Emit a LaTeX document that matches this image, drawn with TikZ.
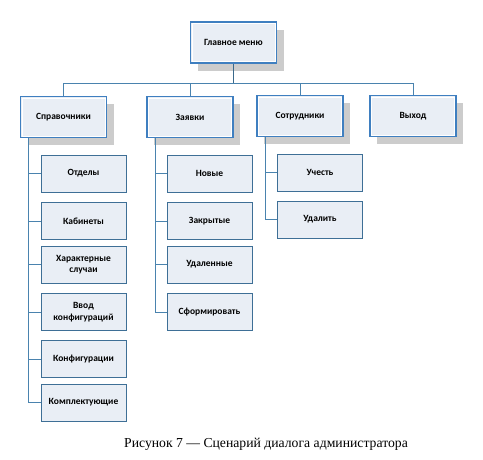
\documentclass[tikz,border=0pt]{standalone}
\usepackage{fontspec}
\setmainfont{Liberation Serif}
\newfontfamily\boxfont{Carlito}
\usetikzlibrary{shadows}
\definecolor{boxfill}{HTML}{E9EEF5}
\definecolor{topline}{HTML}{3F7FC0}
\definecolor{kidline}{HTML}{3E6F96}
\definecolor{conn}{HTML}{4A83AE}
\tikzset{
  x=1pt, y=-1pt,
  topbox/.style={draw=topline, line width=1.6pt,
    fill=boxfill, minimum width=86pt, minimum height=41pt, inner sep=1pt,
    font=\boxfont\bfseries\fontsize{9.5}{11}\selectfont, align=center,
    drop shadow={shadow xshift=7pt, shadow yshift=-8pt, fill=black!20, opacity=1},
    path picture={\draw[white, line width=0.6pt]
      ([shift={(1.4pt,-1.4pt)}]path picture bounding box.north west) rectangle
      ([shift={(-1.4pt,1.4pt)}]path picture bounding box.south east);}},
  kidbox/.style={draw=kidline, line width=0.8pt, fill=boxfill,
    minimum width=85pt, minimum height=37pt, inner sep=1pt,
    font=\boxfont\bfseries\fontsize{9.5}{11.5}\selectfont, align=center},
  link/.style={draw=conn, line width=0.9pt},
}
\begin{document}
\begin{tikzpicture}
\useasboundingbox (0,0) rectangle (483,460);
% top
\node[topbox] (main) at (233.5,42.5) {Главное меню};
% level 1
\node[topbox] (sprav) at (63.5,117) {Справочники};
\node[topbox] (zayav) at (190,117) {Заявки};
\node[topbox] (sotr) at (300,116) {Сотрудники};
\node[topbox] (exit) at (413,116) {Выход};
% Справочники children
\node[kidbox] (otd) at (83.5,173.5) {Отделы};
\node[kidbox] (kab) at (83.5,221) {Кабинеты};
\node[kidbox] (har) at (83.5,264.5) {Характерные\\случаи};
\node[kidbox] (vvod) at (83.5,312) {Ввод\\конфигураций};
\node[kidbox] (konf) at (83.5,359) {Конфигурации};
\node[kidbox] (kompl) at (83.5,402.5) {Комплектующие};
% Заявки children
\node[kidbox] (nov) at (209.5,173.5) {Новые};
\node[kidbox] (zakr) at (209.5,221) {Закрытые};
\node[kidbox] (udln) at (209.5,264.5) {Удаленные};
\node[kidbox] (sform) at (209.5,312) {Сформировать};
% Сотрудники children
\node[kidbox] (uch) at (320,172.5) {Учесть};
\node[kidbox] (udal) at (320,219.5) {Удалить};
% bus
\coordinate (bus) at (233.5,83);
\draw[link, line width=1.3pt, draw=conn!80!black] (main.south) -- (bus);
\draw[link] (bus) -| (sprav.north);
\draw[link] (bus) -| (zayav.north);
\draw[link] (bus) -| (sotr.north);
\draw[link] (bus) -| (exit.north);
\coordinate (sp) at ([xshift=9pt]sprav.south west);
\coordinate (zp) at ([xshift=9pt]zayav.south west);
\coordinate (st) at ([xshift=9pt]sotr.south west);
\foreach \k in {otd,kab,har,vvod,konf,kompl}{\draw[link] (sp) |- (\k.west);}
\foreach \k in {nov,zakr,udln,sform}{\draw[link] (zp) |- (\k.west);}
\foreach \k in {uch,udal}{\draw[link] (st) |- (\k.west);}
% caption
\node[font=\fontsize{13.7}{15}\selectfont] (cap) at (266,444.5) {Рисунок 7 — Сценарий диалога администратора};
\end{tikzpicture}
\end{document}
